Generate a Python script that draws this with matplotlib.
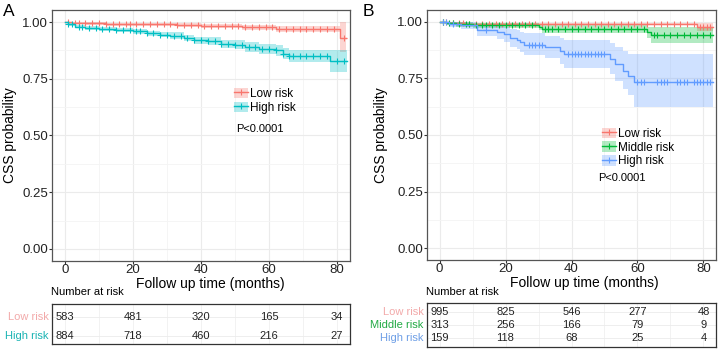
import numpy as np
import matplotlib
matplotlib.use("Agg")
import matplotlib.pyplot as plt
from matplotlib.lines import Line2D
from matplotlib.patches import Patch

plt.rcParams['font.family'] = ['Liberation Sans', 'DejaVu Sans']

RED = '#F8766D'
CYAN = '#00BFC4'
GREEN = '#00BA38'
BLUE = '#619CFF'

# ---- panel A: two groups ----
a_low_t = [0, 2, 6, 12, 33, 40, 52, 62, 81]
a_low_s = [1.0, 0.997, 0.994, 0.99, 0.986, 0.983, 0.976, 0.968, 0.93]
a_low_lo = [1.0, 0.993, 0.989, 0.984, 0.979, 0.975, 0.966, 0.955, 0.87]
a_low_hi = [1.0, 1.0, 1.0, 0.997, 0.994, 0.992, 0.988, 0.982, 1.0]
a_low_end = 82.5
a_low_cens = [1, 3, 4, 6, 8, 10, 12, 14, 16, 18, 19, 21, 23, 25, 27, 29, 31, 33, 35, 37,
              39, 41, 43, 45, 47, 49, 51, 53, 55, 57, 59, 61, 63, 65, 67, 69, 71, 73,
              75, 77, 79, 82]

a_high_t = [0, 1, 3, 6, 10, 15, 20, 24, 28, 31, 35, 38, 42, 46, 50, 53, 57, 62, 64, 66, 78]
a_high_s = [1.0, 0.99, 0.98, 0.975, 0.97, 0.965, 0.96, 0.95, 0.945, 0.94, 0.93, 0.92,
            0.915, 0.905, 0.90, 0.89, 0.88, 0.875, 0.86, 0.85, 0.83]
a_high_lo = [1.0, 0.984, 0.973, 0.967, 0.961, 0.955, 0.949, 0.938, 0.932, 0.926, 0.915,
             0.904, 0.898, 0.887, 0.881, 0.869, 0.857, 0.851, 0.835, 0.823, 0.78]
a_high_hi = [1.0, 0.996, 0.988, 0.984, 0.979, 0.975, 0.971, 0.962, 0.958, 0.954, 0.945,
             0.936, 0.932, 0.923, 0.919, 0.911, 0.903, 0.899, 0.885, 0.877, 0.875]
a_high_end = 83
a_high_cens = [1, 2, 4, 5, 7, 9, 11, 13, 15, 17, 19, 21, 22, 24, 26, 28, 30, 32, 34, 36,
               38, 40, 42, 44, 46, 48, 50, 52, 54, 56, 58, 60, 62, 64, 66, 67, 69, 71,
               73, 75, 77, 80, 82]

a_groups = ['Low risk', 'High risk']
a_risk = [[583, 481, 320, 165, 34],
          [884, 718, 460, 216, 27]]

# ---- panel B: three groups ----
b_low_t = [0, 3, 8, 78]
b_low_s = [1.0, 0.995, 0.99, 0.978]
b_low_lo = [1.0, 0.99, 0.985, 0.96]
b_low_hi = [1.0, 1.0, 0.995, 0.995]
b_low_end = 83
b_low_cens = [1, 2, 4, 6, 7, 9, 11, 13, 15, 17, 19, 21, 23, 25, 27, 29, 31, 33, 35, 37,
              39, 41, 43, 45, 47, 49, 51, 53, 55, 57, 59, 61, 63, 65, 67, 69, 71, 73,
              75, 77, 79, 80, 81, 82]

b_mid_t = [0, 2, 5, 10, 30, 31, 63, 64]
b_mid_s = [1.0, 0.995, 0.99, 0.987, 0.98, 0.97, 0.955, 0.944]
b_mid_lo = [1.0, 0.988, 0.98, 0.975, 0.965, 0.953, 0.928, 0.905]
b_mid_hi = [1.0, 1.0, 0.998, 0.996, 0.992, 0.985, 0.978, 0.98]
b_mid_end = 83
b_mid_cens = [1, 3, 4, 6, 8, 9, 11, 13, 14, 16, 18, 20, 22, 24, 26, 28, 32, 33, 34, 36,
              38, 40, 42, 44, 46, 48, 50, 52, 54, 56, 58, 60, 62, 65, 66, 68, 70, 72,
              74, 76, 78, 80, 82]

b_high_t = [0, 3, 6.4, 11.4, 17.5, 19.5, 21.5, 23.5, 24.5, 25.5, 32.1, 36.6, 37.6,
            51.8, 53.3, 55.5, 57, 58.8]
b_high_s = [1.0, 0.993, 0.987, 0.965, 0.955, 0.945, 0.93, 0.92, 0.91, 0.90, 0.89,
            0.872, 0.857, 0.835, 0.813, 0.784, 0.76, 0.734]
b_high_lo = [1.0, 0.98, 0.97, 0.94, 0.925, 0.91, 0.89, 0.88, 0.865, 0.855, 0.84,
             0.815, 0.795, 0.77, 0.74, 0.705, 0.675, 0.625]
b_high_hi = [1.0, 1.0, 1.0, 0.99, 0.985, 0.98, 0.97, 0.965, 0.955, 0.95, 0.94,
             0.93, 0.92, 0.905, 0.89, 0.87, 0.86, 0.86]
b_high_end = 83
b_high_cens = [1, 2, 4, 14, 27, 28, 29, 30, 31, 39, 40, 41, 42, 43, 44, 45, 46, 47, 48,
               49, 50, 60, 61, 62, 66, 67, 68, 69, 72, 73, 74, 75, 77, 78, 79, 80, 81, 82]

b_groups = ['Low risk', 'Middle risk', 'High risk']
b_risk = [[995, 825, 546, 277, 48],
          [313, 256, 166, 79, 9],
          [159, 118, 68, 25, 4]]

risk_times = [0, 20, 40, 60, 80]
p_text = 'P<0.0001'


def km_curve(ax, t, s, lo, hi, end, cens, color):
    tt = list(t) + [end]
    ss = list(s) + [s[-1]]
    ll = list(lo) + [lo[-1]]
    hh = list(hi) + [hi[-1]]
    ax.fill_between(tt, ll, hh, step='post', color=color, alpha=0.3, lw=0)
    ax.step(tt, ss, where='post', color=color, lw=1.0)
    idx = np.searchsorted(t, cens, side='right') - 1
    ax.plot(cens, np.array(s)[idx], ls='none', marker='+', ms=5, mew=0.8, color=color)


def style_axes(ax):
    ax.set_xlim(-3.8, 83.8)
    ax.set_ylim(-0.053, 1.053)
    ax.set_xticks([0, 20, 40, 60, 80])
    ax.set_xticks([10, 30, 50, 70], minor=True)
    ax.set_yticks([0, 0.25, 0.5, 0.75, 1.0])
    ax.set_yticks([0.125, 0.375, 0.625, 0.875], minor=True)
    ax.set_yticklabels(['0.00', '0.25', '0.50', '0.75', '1.00'])
    ax.grid(which='major', color='#EBEBEB', lw=0.8)
    ax.grid(which='minor', color='#F4F4F4', lw=0.6)
    ax.set_axisbelow(True)
    ax.tick_params(which='major', length=2, color='#333333', labelsize=9.5, pad=1,
                   labelcolor='#222222')
    ax.tick_params(axis='x', pad=0)
    ax.tick_params(which='minor', length=0)
    for sp in ax.spines.values():
        sp.set_color('#555555')
        sp.set_linewidth(0.9)
    ax.set_ylabel('CSS probability', fontsize=10)
    ax.set_xlabel('Follow up time (months)', fontsize=10, va='top')


def risk_table(ax, groups, risk, lab_colors):
    n = len(groups)
    ax.set_xlim(-3.8, 83.8)
    ax.set_ylim(-0.5, n - 0.5)
    ax.set_xticks([0, 20, 40, 60, 80])
    ax.set_xticks([10, 30, 50, 70], minor=True)
    ax.set_yticks(range(n))
    ax.grid(which='both', axis='x', color='#F0F0F0', lw=0.6)
    ax.grid(which='major', axis='y', color='#EBEBEB', lw=0.6)
    ax.tick_params(which='both', length=0, labelbottom=False, labelleft=False)
    for sp in ax.spines.values():
        sp.set_color('#333333')
        sp.set_linewidth(0.9)
    for i, g in enumerate(groups):
        y = n - 1 - i
        for tx, v in zip(risk_times, risk[i]):
            ax.text(tx, y, str(v), ha='center', va='center', fontsize=8, color='#222222')
        ax.text(-0.012, y, g, transform=ax.get_yaxis_transform(), ha='right', va='center',
                fontsize=8, color=lab_colors[i])


def legend(ax, labels, colors, pos):
    handles = []
    for c in colors:
        handles.append((Patch(facecolor=c, alpha=0.3, lw=0),
                        Line2D([], [], color=c, lw=1.0, marker='+', ms=5, mew=0.8)))
    ax.legend(handles, labels, loc='upper left', bbox_to_anchor=pos, frameon=False,
              fontsize=8.5, handlelength=1.2, handleheight=1.0, handletextpad=0.2,
              labelspacing=0.12, borderpad=0, borderaxespad=0)


fig = plt.figure(figsize=(7.2, 3.52), dpi=100)
W, H = 720.0, 352.0

# panel A
axA = fig.add_axes([52 / W, 1 - 261 / H, 298 / W, 251 / H])
km_curve(axA, a_low_t, a_low_s, a_low_lo, a_low_hi, a_low_end, a_low_cens, RED)
km_curve(axA, a_high_t, a_high_s, a_high_lo, a_high_hi, a_high_end, a_high_cens, CYAN)
style_axes(axA)
axA.xaxis.set_label_coords(0.53, -0.063)
axA.yaxis.set_label_coords(-0.117, 0.5)
legend(axA, a_groups, [RED, CYAN], (0.61, 0.69))
axA.text(0.617, 0.526, p_text, transform=axA.transAxes, fontsize=8, va='center')

# panel B
axB = fig.add_axes([427 / W, 1 - 260 / H, 289 / W, 250 / H])
km_curve(axB, b_low_t, b_low_s, b_low_lo, b_low_hi, b_low_end, b_low_cens, RED)
km_curve(axB, b_mid_t, b_mid_s, b_mid_lo, b_mid_hi, b_mid_end, b_mid_cens, GREEN)
km_curve(axB, b_high_t, b_high_s, b_high_lo, b_high_hi, b_high_end, b_high_cens, BLUE)
style_axes(axB)
axB.xaxis.set_label_coords(0.545, -0.063)
axB.yaxis.set_label_coords(-0.135, 0.5)
legend(axB, b_groups, [RED, GREEN, BLUE], (0.605, 0.53))
axB.text(0.592, 0.328, p_text, transform=axB.transAxes, fontsize=8, va='center')

# risk tables
tA = fig.add_axes([52 / W, 1 - 344 / H, 298 / W, 40 / H])
risk_table(tA, a_groups, a_risk, ['#F2A9A9', '#1AB3B3'])
tA.set_ylim(-0.42, 1.68)
tB = fig.add_axes([427 / W, 1 - 347 / H, 289 / W, 44 / H])
risk_table(tB, b_groups, b_risk, ['#F2A9A9', '#22AA44', '#6E9FE6'])
tB.set_ylim(-0.69, 2.69)

fig.text(51 / W, 1 - 292 / H, 'Number at risk', fontsize=8, va='center', ha='left')
fig.text(426 / W, 1 - 292 / H, 'Number at risk', fontsize=8, va='center', ha='left')

fig.text(3 / W, 1 - 12 / H, 'A', fontsize=12.5, va='center', ha='left')
fig.text(363 / W, 1 - 12 / H, 'B', fontsize=12.5, va='center', ha='left')

fig.savefig('out.png', dpi=100)
